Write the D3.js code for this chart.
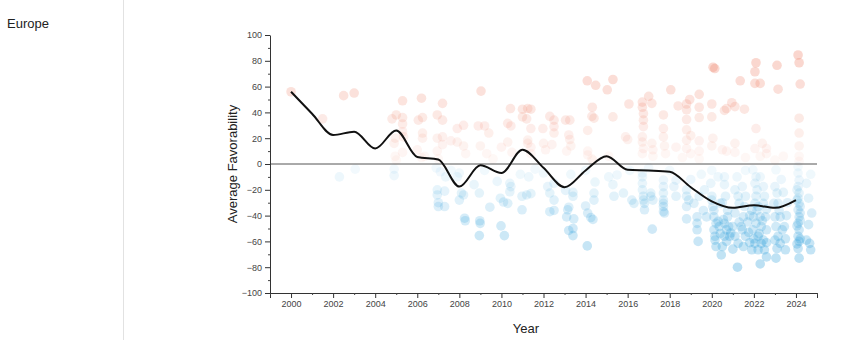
<!DOCTYPE html>
<html>
<head>
<meta charset="utf-8">
<script src="https://cdn.jsdelivr.net/npm/d3@7"></script>
<style>
  html, body { margin: 0; padding: 0; background: #fff; }
  svg { display: block; font-family: "Liberation Sans", Arial, Helvetica, sans-serif; }
</style>
</head>
<body>
<svg id="chart" width="865" height="340"></svg>
<script>
// ---------------- DATA ----------------
const regionName = "Europe";
const xLabel = "Year";
const yLabel = "Average Favorability";

const yTickValues = [-100, -80, -60, -40, -20, 0, 20, 40, 60, 80, 100];
const xTickValues = [2000, 2002, 2004, 2006, 2008, 2010, 2012, 2014, 2016, 2018, 2020, 2022, 2024];

// smoothed average trend
const trendYears  = [2000, 2001, 2002, 2003, 2004, 2005, 2006, 2007, 2008, 2009, 2010, 2011, 2012, 2013, 2014, 2015, 2016, 2017, 2018, 2019, 2020, 2021, 2022, 2023, 2024];
const trendValues = [56, 39, 22.5, 25, 12, 26, 5.5, 3.5, -17.5, -1, -7, 11, -3, -18, -5, 6, -4.5, -5, -6, -18, -29, -34, -32, -34, -28];

// individual survey results [date (fractional year), favorability]
const points2000to2007 = [
  [2000.0,56],[2001.5,35],[2002.5,53],[2003.0,55],[2002.3,-10],[2003.05,-4],
  [2004.8,35],[2005.0,38],[2005.3,49],[2005.3,36],[2005.3,31],[2004.95,20],[2004.9,16],[2004.95,6],[2005.3,9],[2005.35,21],[2005.3,25],[2004.9,-4],[2004.9,-9],[2005.0,3],
  [2006.2,51],[2006.05,34],[2006.25,36],[2006.25,24],[2006.25,20],[2006.2,5],[2006.35,6],[2006.0,11],
  [2006.95,38],[2007.2,47],[2007.2,34],[2006.95,20],[2007.2,21],[2006.95,10],[2007.2,15],[2007.0,4],[2006.9,-3],[2007.1,-6],
  [2006.95,-20],[2006.95,-24],[2007.0,-30],[2007.0,-33],[2007.3,-21],[2007.3,-33],[2007.35,-10]
];
const points2008to2015 = [
  [2007.9,27.5],[2008.2,30],[2007.9,17],[2008.2,14],[2007.6,18],[2008.3,8],
  [2009.03,56.5],[2008.9,29.5],[2009.2,29.5],[2009.4,24],[2009.0,14],[2009.3,8],[2009.6,4],
  [2010.43,43],[2010.3,31.5],[2010.45,29.5],[2010.0,13],[2010.3,17],[2010.5,9],
  [2011.0,42.5],[2011.25,43],[2011.4,42.5],[2011.0,36.5],[2011.2,35],[2011.4,27.5],[2011.25,18.5],[2011.25,16],[2011.4,13],[2011.4,8],
  [2011.97,27.5],[2012.3,37],[2012.5,34],[2012.5,29],[2012.5,24],[2012.0,16],[2012.1,11],[2012.4,15],
  [2013.05,34],[2013.25,34],[2013.2,22.5],[2013.25,19],[2013.1,10],[2013.3,14],
  [2014.08,64.5],[2014.48,61],[2014.32,44],[2014.4,35.5],[2014.3,37],[2014.1,26],[2014.1,10],[2014.1,7],[2014.3,4],[2014.35,3],
  [2015.03,57.5],[2015.3,65.5],[2015.3,36.5],[2015.1,6],
  [2008.0,-7],[2008.2,-24],[2008.0,-28],[2007.9,-10],[2007.6,-5],[2008.1,-22.5],
  [2008.25,-42],[2008.28,-44],[2008.7,-16],[2008.95,-22.5],[2008.97,-44],[2008.99,-46],[2008.95,-55.5],
  [2009.45,-33.5],[2009.8,-13.5],[2009.98,-48],[2010.14,-55.5],[2009.95,-26.5],[2010.1,-29.5],[2010.3,-30.5],[2010.4,-15],[2010.45,-17.5],[2010.4,-21.5],[2009.2,-5],
  [2010.98,-35.5],[2010.98,-25],[2011.2,-24],[2011.4,-23],[2010.9,-8],[2011.3,-10],[2011.6,-4],
  [2012.2,-17.5],[2012.3,-22.5],[2012.5,-28],[2012.3,-37],[2012.5,-36],[2012.0,-7],[2012.5,-15],
  [2013.05,-20.5],[2013.4,-22],[2013.4,-25],[2013.2,-33.5],[2013.15,-35.5],[2013.1,-41],[2013.44,-42.5],[2013.2,-51.5],[2013.4,-50],[2013.4,-55.5],[2013.3,-8],
  [2014.08,-63.5],[2014.0,-32.5],[2014.1,-38],[2014.25,-41.5],[2014.35,-43],[2014.4,-22.5],[2014.4,-28],[2014.45,-14],[2014.0,-5],
  [2015.1,-10],[2015.3,-16],[2015.35,-25],[2015.5,-8.5],[2015.8,-22.5]
];
const points2016to2019 = [
  [2016.06,46.5],[2016.0,19],[2015.9,21],[2016.7,48],[2017.0,52.5],[2017.15,47],[2016.7,44],[2016.75,39],[2016.75,34],[2016.75,29],[2016.7,21],[2016.7,17],[2016.75,12],[2016.7,8],[2017.15,16],[2017.2,11],[2017.2,6],
  [2018.05,57.5],[2017.7,38],[2017.7,27.5],[2017.7,21],[2017.75,14],[2017.8,8],[2018.4,45],[2018.6,5],[2018.3,13],
  [2018.8,46.5],[2018.8,42],[2018.8,34.5],[2018.8,26.5],[2018.8,18.5],[2018.95,50],[2019.4,54],[2019.4,44],[2019.4,36],[2019.0,22],[2018.8,12],[2019.0,8],[2019.4,18],[2019.4,10],[2019.4,4],
  [2016.2,-28],[2016.3,-30.5],[2016.1,-5],
  [2016.7,-15],[2016.7,-20],[2016.75,-25],[2016.75,-28],[2016.8,-30.5],[2016.8,-35.5],[2016.7,-10],[2016.7,-7],[2017.1,-22.5],[2017.1,-25],[2017.2,-28],[2017.17,-50.5],[2017.0,-3],
  [2017.7,-12.5],[2017.7,-17.5],[2017.7,-22.5],[2017.7,-28],[2017.7,-30.5],[2017.7,-33],[2017.7,-37],[2017.75,-38],[2018.2,-17.5],[2018.3,-25],[2018.3,-12.5],[2018.0,-5],
  [2018.8,-20],[2018.8,-25],[2018.9,-28],[2018.8,-33],[2018.8,-42.5],[2019.15,-30.5],[2019.4,-25],[2019.3,-41],[2019.3,-46],[2019.3,-51],[2019.35,-60],[2019.6,-36],[2019.75,-41],[2019.65,-20],[2019.0,-12],[2019.5,-8]
];
const points2020to2024 = [
  [2020.06,75],[2020.14,74],[2020.0,46.5],[2020.0,36.5],[2020.0,14],[2020.05,20],[2020.5,11],
  [2020.6,41.5],[2020.7,43],[2020.95,47.5],[2021.1,44.5],[2021.35,64.5],[2021.55,42.5],[2021.1,16],[2021.1,9],[2020.7,10],[2021.6,5],
  [2022.1,78.5],[2022.05,71.5],[2022.05,62.5],[2022.3,62.5],[2022.1,27.5],[2022.05,12],[2022.4,16],[2022.6,12],[2022.6,8],[2022.3,6],
  [2023.1,76.5],[2023.15,58],[2023.0,3],[2023.4,6],
  [2024.1,84.5],[2024.15,78.5],[2024.2,62],[2024.15,35.5],[2024.15,24],[2024.15,14],[2024.15,6],[2024.15,2],
  [2019.95,-15],[2020.0,-25],[2020.05,-33],[2020.1,-41],[2020.2,-46],[2020.1,-51],[2020.15,-59],[2020.4,-54],[2020.4,-30.5],[2020.0,-28],[2020.1,-36],[2020.15,-56],[2020.2,-64],[2020.3,-44.5],[2020.35,-48.5],[2020.0,-5],[2020.3,-10],
  [2020.6,-10],[2020.6,-16],[2020.65,-25],[2020.55,-43],[2020.6,-46],[2020.7,-51],[2020.6,-56],[2020.5,-64],[2020.75,-41],[2020.85,-56],[2020.45,-70.5],[2020.7,-60],[2020.8,-48.5],[2020.9,-53.5],[2020.75,-36],[2020.5,-30],
  [2021.22,-80],[2021.1,-20],[2021.25,-25],[2021.1,-38],[2021.3,-30.5],[2021.45,-17.5],[2021.5,-41],[2021.45,-51],[2021.1,-56],[2021.25,-61.5],[2021.5,-64],[2021.6,-56],[2021.6,-25],[2021.4,-48.5],[2021.0,-48.5],[2021.3,-45],[2021.55,-33],[2021.7,-45],[2021.75,-53],[2021.8,-40],[2021.2,-10],[2021.6,-5],[2021.8,-61],[2021.0,-66],
  [2021.95,-4.5],[2022.1,-10],[2022.05,-15],[2022.15,-20],[2022.1,-25],[2022.05,-30.5],[2022.15,-36],[2021.98,-41],[2022.3,-41],[2022.1,-46],[2022.35,-48.5],[2021.95,-51],[2022.25,-54],[2022.45,-59],[2022.05,-61.5],[2022.35,-61.5],[2022.2,-66.5],[2022.3,-77.5],[2021.9,-36],[2022.45,-30.5],[2022.45,-17.5],[2022.3,-10],[2022.5,-25],[2022.5,-66.5],[2021.9,-66.5],[2022.55,-41],[2022.6,-51],[2022.6,-61],[2022.2,-56],[2022.0,-58],[2022.4,-44],[2022.2,-33],[2022.6,-35],[2022.6,-72],
  [2023.05,-4.5],[2023.0,-17.5],[2023.1,-22.5],[2022.95,-30.5],[2023.2,-36],[2023.0,-41],[2023.25,-41],[2023.05,-48.5],[2023.15,-56],[2023.0,-59],[2023.25,-61.5],[2023.1,-65.5],[2023.05,-73],[2023.35,-51],[2023.15,-30.5],[2023.4,-22],[2023.45,-48.5],[2023.5,-66.5],[2023.3,-12],[2023.55,-40],[2023.6,-30],[2023.5,-58],
  [2024.1,-2],[2024.1,-7],[2024.15,-12.5],[2024.1,-17.5],[2024.15,-22.5],[2024.1,-26.5],[2024.15,-30.5],[2024.1,-35.5],[2024.15,-41],[2024.1,-46],[2024.15,-51],[2024.1,-56],[2024.15,-60],[2024.1,-65.5],[2024.15,-73],[2024.05,-20],[2024.2,-38],[2024.05,-28],[2024.2,-33],[2024.05,-48],[2024.2,-58],[2024.05,-62],[2024.2,-44],
  [2024.6,-26.5],[2024.75,-38],[2024.6,-47],[2024.5,-59],[2024.7,-66.5],[2024.65,-61.5],[2024.5,-15],[2024.7,-8]
];

// ---------------- DRAW ----------------
const svg = d3.select("#chart");
const W = 865, H = 340;

// left panel label + divider
svg.append("text")
  .attr("x", 7).attr("y", 28)
  .attr("font-size", 13).attr("fill", "#222")
  .text(regionName);
svg.append("line")
  .attr("x1", 123.5).attr("x2", 123.5).attr("y1", 0).attr("y2", H)
  .attr("stroke", "#e2e2e2").attr("stroke-width", 1);

const x = d3.scaleLinear().domain([1999, 2025]).range([270, 817]);
const y = d3.scaleLinear().domain([-100, 100]).range([293, 35]);

const allPoints = [].concat(points2000to2007, points2008to2015, points2016to2019, points2020to2024);

const opacity = d3.scaleLinear().domain([0, 80]).range([0.05, 0.34]).clamp(true);

const g = svg.append("g");

// dots
g.append("g").selectAll("circle")
  .data(allPoints)
  .join("circle")
  .attr("cx", d => x(d[0]))
  .attr("cy", d => y(d[1]))
  .attr("r", 4.8)
  .attr("fill", d => d[1] >= 0 ? "#f08870" : "#33a2dc")
  .attr("fill-opacity", d => opacity(Math.abs(d[1])));

// zero line
g.append("line")
  .attr("x1", x(1999)).attr("x2", x(2025))
  .attr("y1", y(0)).attr("y2", y(0))
  .attr("stroke", "#555").attr("stroke-width", 1);

// axes
const xAxis = d3.axisBottom(x).tickValues(xTickValues).tickFormat(d3.format("d")).tickSize(5).tickPadding(3).tickSizeOuter(5);
const yAxis = d3.axisLeft(y).tickValues(yTickValues).tickSize(5).tickPadding(3).tickSizeOuter(0);

const xg = g.append("g").attr("transform", `translate(0,${y(-100)})`).call(xAxis);
const yg = g.append("g").attr("transform", `translate(${x(1999)},0)`).call(yAxis);

// minor ticks
const minorX = d3.range(1999, 2026, 1).filter(v => v % 2 !== 0);
xg.selectAll(".minor").data(minorX).join("line")
  .attr("class", "minor")
  .attr("x1", d => x(d) + 0.5).attr("x2", d => x(d) + 0.5)
  .attr("y1", 0).attr("y2", 2)
  .attr("stroke", "#444");
const minorY = d3.range(-90, 100, 20);
yg.selectAll(".minor").data(minorY).join("line")
  .attr("class", "minor")
  .attr("y1", d => y(d) + 0.5).attr("y2", d => y(d) + 0.5)
  .attr("x1", 0).attr("x2", -2)
  .attr("stroke", "#444");

[xg, yg].forEach(a => {
  a.selectAll("path.domain").attr("stroke", "#333");
  a.selectAll(".tick line").attr("stroke", "#333");
  a.selectAll(".tick text").attr("font-size", 9).attr("fill", "#444")
    .attr("font-family", "'Liberation Sans', Arial, sans-serif");
});

// trend line
const trend = trendYears.map((yr, i) => [yr, trendValues[i]]);
g.append("path")
  .datum(trend)
  .attr("fill", "none")
  .attr("stroke", "#111")
  .attr("stroke-width", 2)
  .attr("stroke-linejoin", "round")
  .attr("d", d3.line().x(d => x(d[0])).y(d => y(d[1])).curve(d3.curveMonotoneX));

// axis labels
svg.append("text")
  .attr("x", 526).attr("y", 333)
  .attr("text-anchor", "middle")
  .attr("font-size", 13).attr("fill", "#222")
  .text(xLabel);
svg.append("text")
  .attr("transform", `translate(237,164) rotate(-90)`)
  .attr("text-anchor", "middle")
  .attr("font-size", 13).attr("fill", "#222")
  .text(yLabel);
</script>
</body>
</html>
